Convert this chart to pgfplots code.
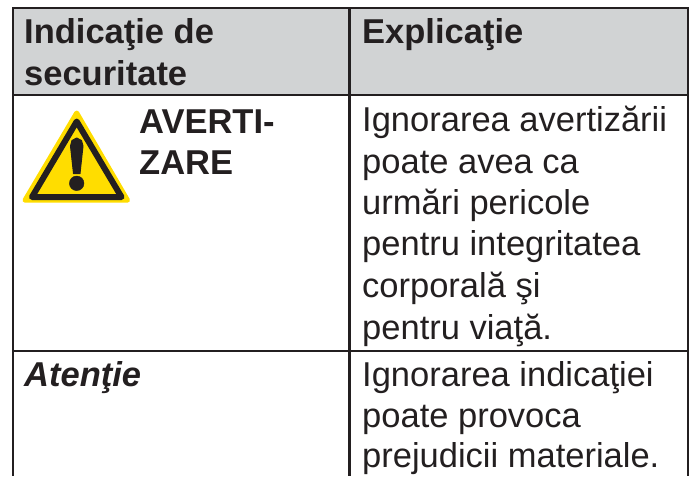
\documentclass[border=0pt]{standalone}
\usepackage{fontspec}
\setmainfont{Liberation Sans}
\usepackage{pgfplots}
\pgfplotsset{compat=1.18}
\definecolor{hd}{HTML}{D1D3D4}
\definecolor{ink}{HTML}{231F20}
\definecolor{warn}{HTML}{FFDD00}
\begin{document}
\begin{tikzpicture}
\begin{axis}[name=a,width=692pt,height=476pt,scale only axis,xmin=0,xmax=692,ymin=0,ymax=476,y dir=reverse,axis lines=none,
 every axis plot/.append style={no markers}]
% header band
\addplot[fill=hd,draw=none] coordinates {(13,8) (688,8) (688,95) (13,95)} --cycle;
% rules
\addplot[ink,line width=2.1pt] coordinates {(12,8) (689,8)};
\addplot[ink,line width=2.1pt] coordinates {(12,95) (689,95)};
\addplot[ink,line width=2.1pt] coordinates {(12,351) (689,351)};
\addplot[ink,line width=2.1pt] coordinates {(13,8) (13,476)};
\addplot[ink,line width=2.1pt] coordinates {(349.5,8) (349.5,476)};
\addplot[ink,line width=2.1pt] coordinates {(688,8) (688,476)};
% warning sign
\addplot[fill=warn,draw=warn,line width=5pt,line join=round] coordinates {(76.7,113) (127.5,200.2) (25,200.2)} --cycle;
\addplot[draw=ink,fill=warn,line width=6pt,line join=round] coordinates {(76.7,121.5) (121.5,197) (32,197)} --cycle;
\addplot[fill=ink,draw=ink,line width=1pt,line join=round] coordinates {(70.5,146) (72,140.5) (76.7,138) (81.5,140.5) (83,146) (80,173.5) (73.5,173.5)} --cycle;
\addplot[ink,only marks,mark=*,mark size=7.3pt,mark options={fill=ink,draw=ink}] coordinates {(76.7,183.3)};
% text
\tikzset{t/.style={anchor=base west,inner sep=0pt,text=ink,font=\fontsize{34.5}{34.5}\selectfont},
 tb/.style={t,font=\fontsize{34.5}{34.5}\selectfont\bfseries}}
\node[tb] at (axis cs:24,44) {Indicaţie de};
\node[tb] at (axis cs:24,85) {securitate};
\node[tb] at (axis cs:362,44) {Explicaţie};
\node[tb] at (axis cs:139,133) {AVERTI-};
\node[tb] at (axis cs:139,174) {ZARE};
\node[t] at (axis cs:362,131.5) {Ignorarea avertizării};
\node[t] at (axis cs:362,173) {poate avea ca};
\node[t] at (axis cs:362,214) {urmări pericole};
\node[t] at (axis cs:362,255) {pentru integritatea};
\node[t] at (axis cs:362,297) {corporală şi};
\node[t] at (axis cs:362,339) {pentru viaţă.};
\node[t,font=\fontsize{34.5}{34.5}\selectfont\bfseries\itshape] at (axis cs:24,386) {Atenţie};
\node[t] at (axis cs:362,386) {Ignorarea indicaţiei};
\node[t] at (axis cs:362,427) {poate provoca};
\node[t] at (axis cs:362,467) {prejudicii materiale.};
\end{axis}
\pgfresetboundingbox
\path[use as bounding box] (a.south west) rectangle (a.north east);
\end{tikzpicture}
\end{document}
